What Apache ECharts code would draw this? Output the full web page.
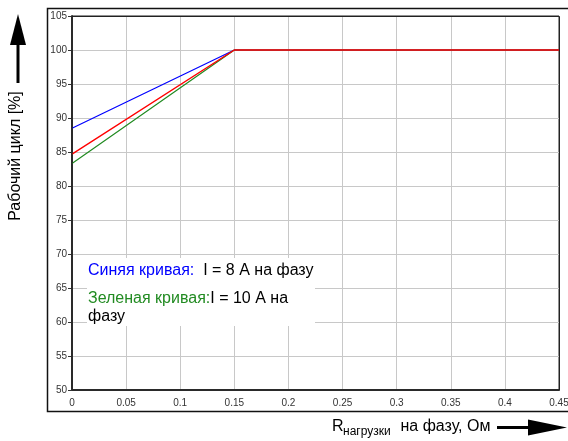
<!DOCTYPE html>
<html><head><meta charset="utf-8">
<script src="https://cdn.jsdelivr.net/npm/echarts@6/dist/echarts.min.js"></script>
<style>html,body{margin:0;padding:0;background:#fff}#c{width:568px;height:441px}</style>
</head><body><div id="c"></div>
<script>
var xTicks = [0, 0.05, 0.1, 0.15, 0.2, 0.25, 0.3, 0.35, 0.4, 0.45];
var xValues = [0, 0.15, 0.45];
var blueValues = [88.5, 100, 100];
var greenValues = [83.3, 100, 100];
var redValues = [84.7, 100, 100];
var yTicks = [50, 55, 60, 65, 70, 75, 80, 85, 90, 95, 100, 105];

function pairs(xs, ys){ return xs.map(function(x,i){return [x, ys[i]];}); }

var chart = echarts.init(document.getElementById('c'), null, {renderer:'canvas'});
var FONT = 'Liberation Sans, Arial, sans-serif';
chart.setOption({
  animation:false,
  grid:{left:72, top:16, right:9, bottom:51, outerBoundsMode:'none', containLabel:false, show:true, borderColor:'#222', borderWidth:1, backgroundColor:'#fff'},
  xAxis:{type:'value', min:xTicks[0], max:xTicks[xTicks.length-1], interval:0.05,
    axisLine:{show:true, onZero:false, lineStyle:{color:'#333', width:2}},
    axisTick:{show:false},
    axisLabel:{fontSize:10, color:'#333', fontFamily:FONT, margin:8, hideOverlap:false,
      formatter:function(v){ var s = xTicks.reduce(function(a,t){return Math.abs(t-v)<1e-9?t:a;}, v); return String(Math.round(s*100)/100);} },
    splitLine:{show:true, lineStyle:{color:'#c8c8c8', width:1}}
  },
  yAxis:{type:'value', min:yTicks[0], max:yTicks[yTicks.length-1], interval:5,
    axisLine:{show:true, lineStyle:{color:'#333', width:2}},
    axisTick:{show:true, length:4, lineStyle:{color:'#333'}},
    axisLabel:{fontSize:10, color:'#333', fontFamily:FONT, margin:5},
    splitLine:{show:true, lineStyle:{color:'#c8c8c8', width:1}}
  },
  series:[
    {type:'line', data:pairs(xValues, blueValues), symbol:'none', lineStyle:{color:'#0000ff', width:1.2}, z:3},
    {type:'line', data:pairs(xValues, greenValues), symbol:'none', lineStyle:{color:'#228b22', width:1.2}, z:4},
    {type:'line', data:pairs(xValues, redValues), symbol:'none', lineStyle:{color:'#ff0000', width:1.4}, z:5}
  ],
  graphic:[
    {type:'rect', z:-10, shape:{x:47.5, y:8.5, width:530, height:403}, style:{fill:'none', stroke:'#111', lineWidth:1.5}},
    {type:'rect', z:40, silent:true, shape:{x:72, y:16.5, width:487.5, height:373.5}, style:{fill:'none', stroke:'#222', lineWidth:1}},
    {type:'rect', z:50, shape:{x:87, y:258, width:228, height:68}, style:{fill:'#fff'}},
    {type:'text', z:60, x:88, y:271, style:{text:'{b|Синяя кривая:}{k|  I = 8 A на фазу}', font:'16px '+FONT, textVerticalAlign:'middle',
      rich:{b:{fill:'#0000ff', font:'16px '+FONT}, k:{fill:'#000', font:'16px '+FONT}}}},
    {type:'text', z:60, x:88, y:299, style:{text:'{g|Зеленая кривая:}{k|I = 10 A на}', font:'16px '+FONT, textVerticalAlign:'middle',
      rich:{g:{fill:'#228b22', font:'16px '+FONT}, k:{fill:'#000', font:'16px '+FONT}}}},
    {type:'text', z:60, x:88, y:317, style:{text:'фазу', fill:'#000', font:'16px '+FONT, textVerticalAlign:'middle'}},
    // y axis title and arrow
    {type:'text', z:60, x:16, y:156, rotation:Math.PI/2, style:{text:'Рабочий цикл [%]', fill:'#000', font:'16px '+FONT, textAlign:'center', textVerticalAlign:'middle'}},
    {type:'polygon', z:60, shape:{points:[[18,14],[10,45],[26,45]]}, style:{fill:'#000'}},
    {type:'rect', z:60, shape:{x:16.5, y:44, width:3, height:39}, style:{fill:'#000'}},
    // x axis title and arrow
    {type:'text', z:60, x:332, y:427, style:{text:'R', fill:'#000', font:'16px '+FONT, textVerticalAlign:'middle'}},
    {type:'text', z:60, x:343, y:432, style:{text:'нагрузки', fill:'#000', font:'12px '+FONT, textVerticalAlign:'middle'}},
    {type:'text', z:60, x:396, y:427, style:{text:' на фазу, Ом', fill:'#000', font:'16px '+FONT, textVerticalAlign:'middle'}},
    {type:'rect', z:60, shape:{x:497, y:426, width:32, height:3}, style:{fill:'#000'}},
    {type:'polygon', z:60, shape:{points:[[528,419.5],[567,427.5],[528,435.5]]}, style:{fill:'#000'}}
  ]
});
</script></body></html>
